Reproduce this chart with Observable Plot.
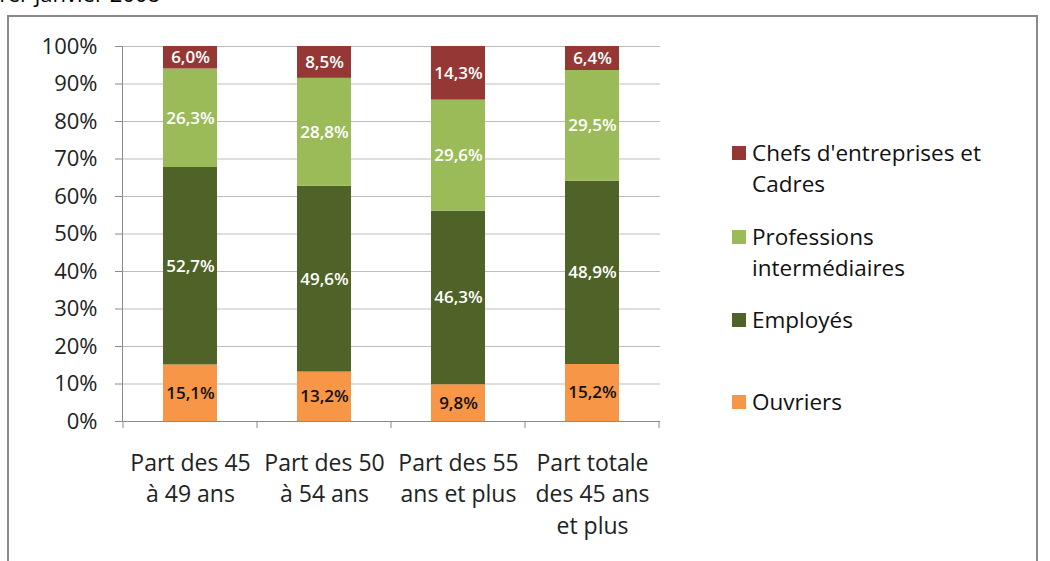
<!DOCTYPE html>
<html><head><meta charset="utf-8">
<script src="https://cdn.jsdelivr.net/npm/d3@7"></script>
<script src="https://cdn.jsdelivr.net/npm/@observablehq/plot@0.6"></script>
<style>
body{margin:0;background:#fff;font-family:"Open Sans",sans-serif;}
#wrap{position:relative;width:1050px;height:561px;overflow:hidden;background:#fff;}
#title{position:absolute;left:-40px;top:-22px;width:200px;text-align:right;font-size:22px;color:#000;white-space:nowrap;}
#frame{position:absolute;left:7px;top:15px;width:1031px;height:600px;border:2px solid #8a8a8a;box-sizing:border-box;}
#chart{position:absolute;left:0;top:0;}
#legend{position:absolute;left:732px;top:0;font-size:22.5px;color:#111;}
.li{position:absolute;left:0;width:310px;}
.sw{position:absolute;left:0;width:14px;height:14px;}
.tx{position:absolute;left:20px;line-height:31px;white-space:nowrap;}
</style></head>
<body><div id="wrap">
<div id="title">1er janvier 2008</div>
<div id="frame"></div>
<div id="chart"></div>
<div id="legend"></div>
</div>
<script>
const categories = ["Part des 45\nà 49 ans","Part des 50\nà 54 ans","Part des 55\nans et plus","Part totale\ndes 45 ans\net plus"];
const series = ["Ouvriers","Employés","Professions intermédiaires","Chefs d'entreprises et Cadres"];
const colors = ["#F79646","#4F6228","#9BBB59","#953735"];
const ouvriers = [15.1,13.2,9.8,15.2];
const employes = [52.7,49.6,46.3,48.9];
const professions = [26.3,28.8,29.6,29.5];
const chefs = [6.0,8.5,14.3,6.4];
const yTicks = [0,0.1,0.2,0.3,0.4,0.5,0.6,0.7,0.8,0.9,1];
const legendLabels = [["Chefs d'entreprises et","Cadres"],["Professions","intermédiaires"],["Employés"],["Ouvriers"]];

const vals = [ouvriers, employes, professions, chefs];
const data = [];
series.forEach((s,si)=>categories.forEach((c,ci)=>data.push({cat:c,series:s,value:vals[si][ci]})));
const fmt = v => v.toFixed(1).replace(".",",")+"%";

const stackOpts = {x:"cat", y:"value", z:"series", order: series, offset:"normalize"};
const plot = Plot.plot({
  width:1050, height:561,
  marginLeft:122, marginRight:390, marginTop:46, marginBottom:140,
  style:{fontFamily:"'Open Sans',sans-serif", background:"transparent"},
  x:{domain:categories, paddingInner:0.6, paddingOuter:0.3, label:null},
  y:{domain:[0,1], label:null},
  color:{domain:series, range:colors},
  marks:[
    Plot.gridY(yTicks,{stroke:"#bdbdbd", strokeOpacity:1}),
    Plot.barY(data, Plot.stackY({...stackOpts, fill:"series"})),
    Plot.text(data, Plot.stackY({...stackOpts, text:d=>fmt(d.value),
      fill:d=>d.series==="Ouvriers"?"#111":"#fff", fontSize:17, fontWeight:600})),
    Plot.ruleY([0],{stroke:"#8a8a8a"}),
    Plot.axisY(yTicks,{tickFormat:d=>Math.round(d*100)+"%", tickSize:7, tickPadding:18, fontSize:22, stroke:"#8a8a8a", fill:"#222"}),
    Plot.frame({anchor:"left", stroke:"#8a8a8a"}),
    Plot.axisX({tickSize:0, tickPadding:27, fontSize:23, lineHeight:1.37, fill:"#222"})
  ]
});
document.getElementById("chart").appendChild(plot);

// boundary ticks (Excel-style) below the baseline, from the x scale
const xs = plot.scale("x"), ys = plot.scale("y");
const svg = d3.select(plot);
const bw = xs.step;
const bounds = categories.map(c=>xs.apply(c) - (bw - xs.bandwidth)/2);
bounds.push(bounds[bounds.length-1]+bw);
const y0 = ys.apply(0);
svg.append("g").selectAll("line").data(bounds).join("line")
  .attr("x1",d=>d).attr("x2",d=>d).attr("y1",y0).attr("y2",y0+7).attr("stroke","#8a8a8a");

// legend
const lg = d3.select("#legend");
const legendY = [153,237,320,402];
const legendSeries = [3,2,1,0];
legendSeries.forEach((si,i)=>{
  const it = lg.append("div").attr("class","li").style("top",(legendY[i]-16)+"px");
  it.append("div").attr("class","sw").style("top","9px").style("background",colors[si]);
  it.append("div").attr("class","tx").html(legendLabels[i].join("<br>"));
});
</script>
</body></html>
